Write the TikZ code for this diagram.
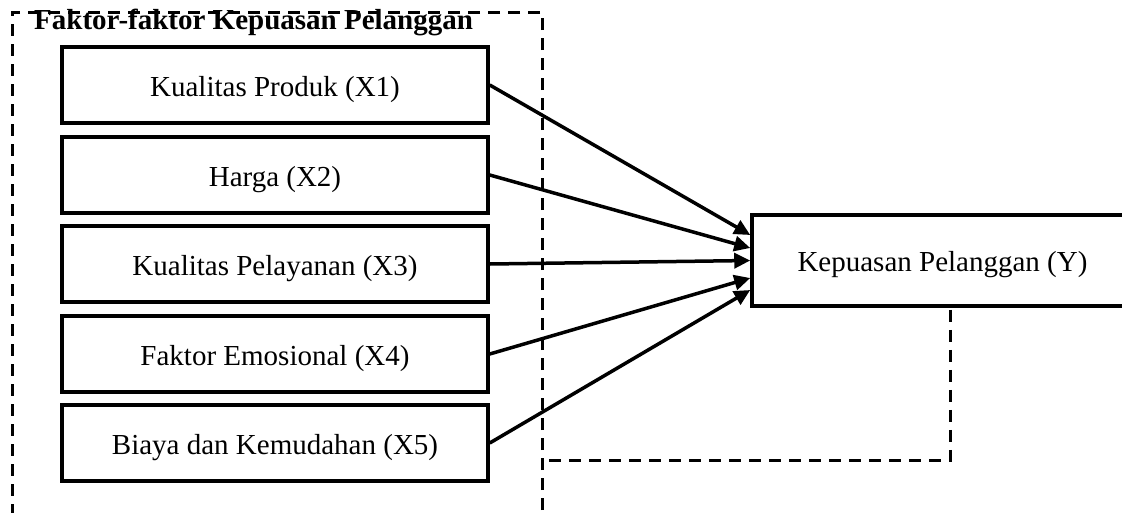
\documentclass[tikz,border=0pt]{standalone}
\usepackage{fontspec}
\setmainfont{Liberation Serif}
\usetikzlibrary{arrows.meta,calc}
\begin{document}
\begin{tikzpicture}[x=1pt,y=-1pt,
  factor/.style={draw, line width=3.5pt, minimum width=426pt, minimum height=76pt,
    font=\fontsize{29}{34}\selectfont, inner sep=0pt, text height=28pt, text depth=6pt},
  result/.style={draw, line width=3.5pt, minimum width=381pt, minimum height=91pt,
    font=\fontsize{29}{34}\selectfont, inner sep=0pt, text height=28pt, text depth=6pt},
  link/.style={line width=3.5pt, -{Triangle[length=16pt,width=15pt]}},
  frame/.style={line width=3pt, dash pattern=on 12pt off 8pt}]
\useasboundingbox (0,0) rectangle (1122,512);
\clip (0,0) rectangle (1122,512);
% group frame
\draw[frame] (542,530) -- (542,12) -- (12,12) -- (12,530);
\node[anchor=base west, inner sep=0pt, font=\bfseries\fontsize{29}{34}\selectfont] (title) at (34,29) {Faktor-faktor Kepuasan Pelanggan};
% factor boxes
\node[factor] (b1) at (275,85) {Kualitas Produk (X1)};
\node[factor] (b2) at (275,175) {Harga (X2)};
\node[factor] (b3) at (275,264) {Kualitas Pelayanan (X3)};
\node[factor] (b4) at (275,354) {Faktor Emosional (X4)};
\node[factor] (b5) at (275,443) {Biaya dan Kemudahan (X5)};
% result box
\node[result] (Y) at (942.5,260.5) {Kepuasan Pelanggan (Y)};
% arrows
\draw[link] (b1.east) -- ($(Y.west)+(0,-25.5)$);
\draw[link] (b2.east) -- ($(Y.west)+(0,-12.5)$);
\draw[link] (b3.east) -- ($(Y.west)+(0,0)$);
\draw[link] (b4.east) -- ($(Y.west)+(0,17.5)$);
\draw[link] (b5.east) -- ($(Y.west)+(0,29.5)$);
% dashed link from Y back to the frame
\coordinate (fr) at (542,460);
\draw[frame] ($(Y.south)+(8,2)$) |- (fr);
\end{tikzpicture}
\end{document}
